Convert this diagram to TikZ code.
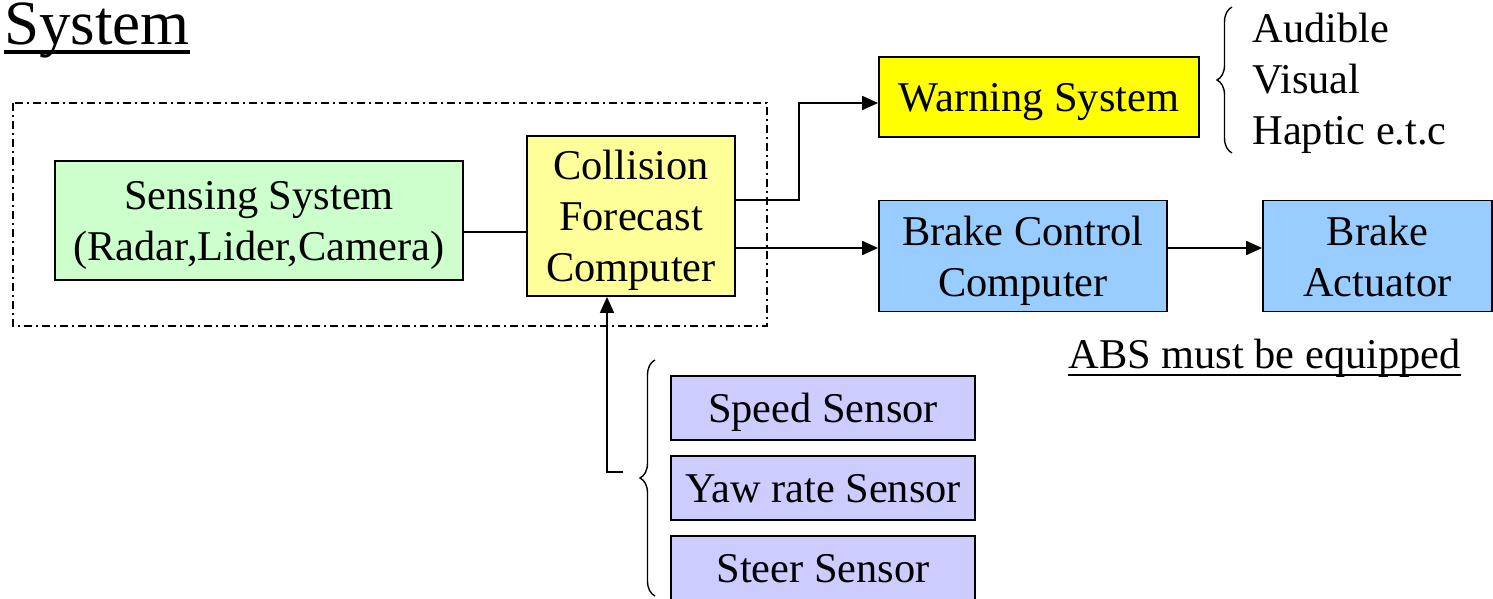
\documentclass[tikz,border=0pt]{standalone}
\usepackage{fontspec}
\setmainfont{Liberation Serif}
\usetikzlibrary{arrows.meta,decorations.pathreplacing}
\definecolor{sensgreen}{HTML}{CCFFCC}
\definecolor{fcyellow}{HTML}{FFFF99}
\definecolor{warnyellow}{HTML}{FFFF00}
\definecolor{brakeblue}{HTML}{99CCFF}
\definecolor{sensorlilac}{HTML}{CCCCFF}

\begin{document}
\begin{tikzpicture}
[x=0.5pt,y=-0.5pt,font=\fontsize{21.2pt}{25.5pt}\selectfont]
\tikzset{blk/.style={draw,line width=0.9pt,align=center,inner sep=0pt,text depth=0pt}}
\tikzset{sensor/.style={blk,fill=sensorlilac,minimum width=152pt,minimum height=32pt}}
\tikzset{arr/.style={line width=0.9pt,-{Triangle[length=8pt,width=7pt]}}}
\tikzset{ln/.style={line width=0.9pt}}
\tikzset{brc/.style={decorate,decoration={brace,amplitude=7.5pt},line width=0.7pt}}
\useasboundingbox (0,0) rectangle (1493,599);

\node [anchor=base west,inner sep=0pt,font=\fontsize{31.5pt}{36pt}\selectfont] (title) at (4,45) {System};
\draw [line width=1.9pt] ([yshift=-3.4pt]title.base west) -- ([yshift=-3.4pt]title.base east);

\draw [line width=0.7pt,dash pattern=on 4pt off 2pt on 1pt off 2pt] (13,103) rectangle (767,326);

\node [blk,fill=sensgreen,minimum width=204pt,minimum height=59.5pt] (sense) at (259,220.5) {Sensing System\\(Radar,Lider,Camera)};
\node [blk,fill=fcyellow,minimum width=104pt,minimum height=80pt] (forecast) at (631,216) {Collision\\Forecast\\Computer};
\node [blk,fill=warnyellow,minimum width=160pt,minimum height=40pt] (warn) at (1039,97) {Warning System};
\node [blk,fill=brakeblue,minimum width=144pt,minimum height=55.5pt] (bcc) at (1023,256) {Brake Control\\Computer};
\node [blk,fill=brakeblue,minimum width=114.5pt,minimum height=55.5pt] (bact) at (1377.5,256) {Brake\\Actuator};
\node [sensor] (speed) at (823,408) {Speed Sensor};
\node [sensor] (yaw) at (823,488) {Yaw rate Sensor};
\node [sensor] (steer) at (823,568) {Steer Sensor};

\node [anchor=base west,inner sep=0pt] (aud) at (1252,43) {Audible};
\node [anchor=base west,inner sep=0pt] (vis) at (1252,94) {Visual};
\node [anchor=base west,inner sep=0pt] (hap) at (1252,145) {Haptic e.t.c};
\node [anchor=base west,inner sep=0pt] (abs) at (1068,368) {ABS must be equipped};
\draw [line width=0.9pt] ([yshift=-3.5pt]abs.base west) -- ([yshift=-3.5pt]abs.base east);

\draw [brc] (1232,153) -- (1232,7);
\draw [brc] (655,596) -- (655,360);
\coordinate (tap) at (623,472);

\draw [ln] (sense.east |- 0,232) -- (forecast.west |- 0,232);
\draw [arr] (forecast.east |- 0,200) -- (799,200) -- (799,103) -- (warn.west |- 0,103);
\foreach \from/\to in {forecast/bcc,bcc/bact}
	\draw [arr] (\from.east |- 0,248) -- (\to.west |- 0,248);
\draw [arr] (tap) -- (607,472) -- (forecast.south -| 607,0);
\end{tikzpicture}
\end{document}
